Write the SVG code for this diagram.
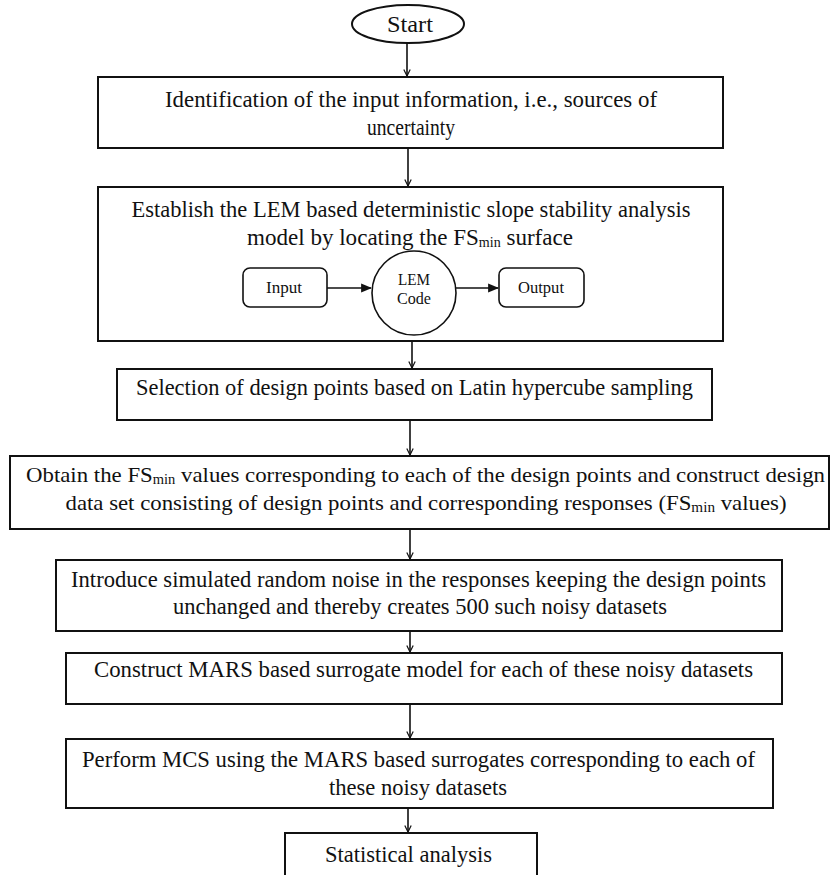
<svg xmlns="http://www.w3.org/2000/svg" width="830" height="875" viewBox="0 0 830 875">
<defs>
<style>
.box{fill:#fff;stroke:#111;stroke-width:2}
.sm{fill:#fff;stroke:#111;stroke-width:1.6}
.t{font-family:"Liberation Serif","Times New Roman",serif;font-size:23px;fill:#111;text-anchor:middle}
.ts{font-family:"Liberation Serif","Times New Roman",serif;font-size:17px;fill:#111;text-anchor:middle}
.con{stroke:#111;stroke-width:1.6;fill:none}
.sub{font-size:14px;baseline-shift:-2px}
</style>
<marker id="ah" viewBox="0 0 10 10" refX="9" refY="5" markerWidth="8" markerHeight="8" markerUnits="userSpaceOnUse" orient="auto">
<path d="M1,1 L9,5 L1,9" fill="none" stroke="#111" stroke-width="1.5"/>
</marker>
<marker id="fa" viewBox="0 0 10 10" refX="9" refY="5" markerWidth="11" markerHeight="11" markerUnits="userSpaceOnUse" orient="auto">
<path d="M0,1 L10,5 L0,9 Z" fill="#111"/>
</marker>
</defs>
<rect width="830" height="875" fill="#fff"/>
<g id="start">
<ellipse class="box" cx="408" cy="24" rx="56" ry="19"/>
<text class="t" x="410" y="32" textLength="46" lengthAdjust="spacingAndGlyphs">Start</text>
</g>
<g id="identification">
<rect class="box" x="98" y="77" width="625" height="71"/>
<text class="t" style="font-size:24px" x="411" y="107" textLength="492" lengthAdjust="spacingAndGlyphs">Identification of the input information, i.e., sources of</text>
<text class="t" style="font-size:24px" x="411" y="135" textLength="88" lengthAdjust="spacingAndGlyphs">uncertainty</text>
</g>
<g id="establish">
<rect class="box" x="98" y="187" width="625" height="154"/>
<text class="t" x="411" y="217" textLength="559" lengthAdjust="spacingAndGlyphs">Establish the LEM based deterministic slope stability analysis</text>
<text class="t" x="410" y="245" textLength="326" lengthAdjust="spacingAndGlyphs">model by locating the FS<tspan class="sub">min</tspan> surface</text>
</g>
<g id="input">
<rect class="sm" x="243" y="268" width="84" height="39" rx="7"/>
<text class="ts" x="284" y="293" textLength="36" lengthAdjust="spacingAndGlyphs">Input</text>
</g>
<g id="lemcode">
<circle class="sm" cx="414" cy="293" r="42"/>
<text class="ts" x="414" y="285" textLength="32" lengthAdjust="spacingAndGlyphs">LEM</text>
<text class="ts" x="414" y="304" textLength="34" lengthAdjust="spacingAndGlyphs">Code</text>
</g>
<g id="output">
<rect class="sm" x="499" y="268" width="85" height="39" rx="7"/>
<text class="ts" x="541" y="293" textLength="46" lengthAdjust="spacingAndGlyphs">Output</text>
</g>
<g id="selection">
<rect class="box" x="117" y="369" width="595" height="51"/>
<text class="t" x="414.5" y="395" textLength="557" lengthAdjust="spacingAndGlyphs">Selection of design points based on Latin hypercube sampling</text>
</g>
<g id="obtain">
<rect class="box" x="10" y="456" width="819" height="73"/>
<text class="t" style="font-size:22px" x="425.5" y="482" textLength="799" lengthAdjust="spacingAndGlyphs">Obtain the FS<tspan class="sub">min</tspan> values corresponding to each of the design points and construct design</text>
<text class="t" style="font-size:21px" x="426" y="510" textLength="721" lengthAdjust="spacingAndGlyphs">data set consisting of design points and corresponding responses (FS<tspan class="sub">min</tspan> values)</text>
</g>
<g id="introduce">
<rect class="box" x="56" y="560" width="726" height="71"/>
<text class="t" x="418.5" y="587" textLength="695" lengthAdjust="spacingAndGlyphs">Introduce simulated random noise in the responses keeping the design points</text>
<text class="t" x="420" y="614" textLength="494" lengthAdjust="spacingAndGlyphs">unchanged and thereby creates 500 such noisy datasets</text>
</g>
<g id="construct">
<rect class="box" x="66" y="653" width="716" height="51"/>
<text class="t" x="423.5" y="677" textLength="659" lengthAdjust="spacingAndGlyphs">Construct MARS based surrogate model for each of these noisy datasets</text>
</g>
<g id="perform">
<rect class="box" x="66" y="739" width="707" height="69"/>
<text class="t" x="418.5" y="767" textLength="673" lengthAdjust="spacingAndGlyphs">Perform MCS using the MARS based surrogates corresponding to each of</text>
<text class="t" x="418" y="795" textLength="178" lengthAdjust="spacingAndGlyphs">these noisy datasets</text>
</g>
<g id="statistical">
<rect class="box" x="285" y="833" width="252" height="50"/>
<text class="t" x="408.5" y="862" textLength="167" lengthAdjust="spacingAndGlyphs">Statistical analysis</text>
</g>
<g id="connectors">
<line class="con" x1="407" y1="43" x2="407" y2="76" marker-end="url(#ah)"/>
<line class="con" x1="408" y1="148" x2="408" y2="186" marker-end="url(#ah)"/>
<line class="con" x1="412" y1="341" x2="412" y2="368" marker-end="url(#ah)"/>
<line class="con" x1="410" y1="420" x2="410" y2="455" marker-end="url(#ah)"/>
<line class="con" x1="410" y1="529" x2="410" y2="559" marker-end="url(#ah)"/>
<line class="con" x1="410" y1="631" x2="410" y2="652" marker-end="url(#ah)"/>
<line class="con" x1="410" y1="704" x2="410" y2="738" marker-end="url(#ah)"/>
<line class="con" x1="408" y1="808" x2="408" y2="832" marker-end="url(#ah)"/>
<line class="con" x1="327" y1="288" x2="371" y2="288" marker-end="url(#fa)"/>
<line class="con" x1="456" y1="288" x2="498" y2="288" marker-end="url(#fa)"/>
</g>
</svg>
